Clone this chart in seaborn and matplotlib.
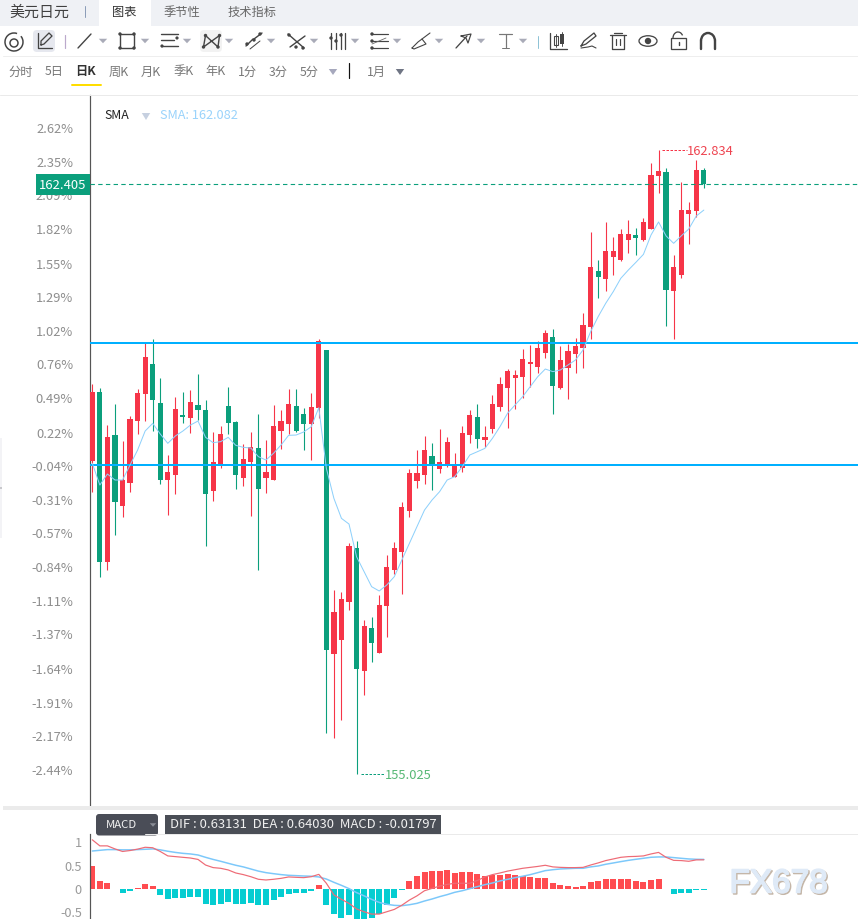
import numpy as np
import pandas as pd
import seaborn as sns
import matplotlib
matplotlib.use("Agg")
import matplotlib.pyplot as plt
import matplotlib.patheffects as pe
from matplotlib.patches import Rectangle, Circle, FancyBboxPatch, Ellipse, Arc
from matplotlib.transforms import ScaledTranslation

# Daily USD/JPY quotes
opens = [158.946,159.805,157.678,159.267,158.379,158.666,159.442,159.780,160.156,159.667,158.704,158.766,159.517,159.480,159.642,
         159.580,158.566,158.904,159.630,159.430,158.729,158.929,159.104,158.729,158.704,159.317,159.405,159.630,159.530,159.405,
         159.605,160.331,156.526,156.702,157.177,157.853,156.314,156.852,156.539,157.127,157.578,157.803,158.316,158.691,158.766,
         159.004,158.842,158.892,158.741,158.854,159.267,159.492,159.204,159.342,159.618,159.856,159.981,159.993,160.156,160.118,
         160.294,160.494,159.856,160.106,160.281,160.356,160.619,161.320,161.220,161.495,161.457,161.708,161.770,161.708,161.845,
         162.508,162.559,161.069,161.270,162.033,162.071,162.584]
highs = [159.905,159.855,159.392,159.655,159.192,159.505,159.843,160.414,160.468,159.980,159.017,159.743,159.805,159.830,160.030,
         159.705,159.305,159.380,159.868,159.442,159.154,159.305,159.530,159.204,159.642,159.580,159.843,159.843,159.605,159.793,
         160.468,160.331,157.327,157.302,157.916,157.941,156.952,156.989,157.265,157.765,157.928,158.429,158.842,159.079,159.255,
         159.167,159.342,159.242,159.042,159.380,159.580,159.655,159.380,159.768,159.993,160.093,160.081,160.344,160.394,160.444,
         160.581,160.594,160.381,160.406,160.481,160.794,161.808,161.457,161.933,161.745,161.845,161.958,161.858,161.983,162.671,
         162.834,162.609,161.520,162.433,162.183,162.709,162.609]
lows = [158.554,157.490,157.578,158.016,158.241,158.554,159.280,159.442,159.317,158.654,158.266,158.529,159.417,159.292,159.455,
        157.878,158.441,158.854,159.275,158.591,158.629,158.253,157.578,158.541,158.704,159.092,159.280,159.305,159.079,158.954,
        159.480,155.538,155.475,155.701,157.077,155.025,156.013,156.426,156.539,156.739,157.528,157.277,158.241,158.604,158.654,
        158.579,158.791,158.867,158.741,158.804,159.167,159.104,159.117,159.292,159.568,159.355,159.593,159.730,159.868,160.043,
        160.231,159.530,159.843,159.718,160.043,160.106,160.469,160.982,161.069,161.270,161.445,161.545,161.520,161.695,161.845,
        162.296,160.631,160.469,161.232,161.658,161.995,162.358]
closes = [159.805,157.678,159.242,158.429,158.704,159.467,159.793,160.243,159.705,158.704,158.804,159.592,159.492,159.680,159.580,
          158.529,158.929,159.280,159.417,158.766,158.967,159.117,158.591,158.804,159.380,159.442,159.655,159.317,159.405,159.617,
          160.443,156.577,157.052,157.215,157.878,156.339,156.877,156.664,157.140,157.615,157.853,158.366,158.791,158.791,159.079,
          158.892,158.929,159.179,158.892,159.292,159.517,159.217,159.242,159.655,159.906,160.068,160.018,160.218,160.181,160.356,
          160.544,159.881,160.206,160.319,160.381,160.644,161.370,161.245,161.570,161.570,161.783,161.783,161.733,161.933,162.521,
          162.571,161.082,161.370,162.083,162.083,162.584,162.405]
sma = [158.912,158.641,158.779,158.704,158.704,158.892,159.079,159.317,159.413,159.280,159.163,159.255,159.317,159.392,159.442,
       159.238,159.171,159.184,159.238,159.138,159.113,159.104,158.996,158.954,159.038,159.142,159.263,159.267,159.305,159.371,
       159.609,158.850,158.474,158.224,158.153,157.744,157.557,157.369,157.315,157.390,157.494,157.703,157.911,158.120,158.328,
       158.454,158.558,158.704,158.746,158.871,159.017,159.058,159.100,159.226,159.372,159.539,159.643,159.747,159.872,159.997,
       160.093,160.060,160.081,160.143,160.206,160.331,160.560,160.748,160.915,161.061,161.228,161.332,161.428,161.528,161.770,
       161.933,161.758,161.666,161.758,161.845,162.008,162.082]

# Drawn support and resistance levels, and the percentage scale
level_prices = [160.418, 158.892]
base_price = 158.936
pct_ticks = [2.62, 2.35, 2.09, 1.82, 1.55, 1.29, 1.02, 0.76, 0.49, 0.22, -0.04, -0.31, -0.57, -0.84, -1.11, -1.37, -1.64, -1.91, -2.17, -2.44]

# MACD pane
dif = [1.06,0.93,0.93,0.865,0.81,0.83,0.86,0.90,0.89,0.81,0.715,0.70,0.685,0.67,0.64,0.52,0.465,0.45,0.415,0.35,0.315,0.27,0.215,0.20,
       0.215,0.235,0.265,0.257,0.25,0.27,0.32,0.13,-0.12,-0.215,-0.30,-0.42,-0.48,-0.53,-0.53,-0.48,-0.43,-0.34,-0.23,-0.14,-0.03,
       0.02,0.07,0.105,0.13,0.13,0.13,0.19,0.265,0.315,0.35,0.39,0.42,0.45,0.47,0.49,0.515,0.48,0.47,0.465,0.465,0.47,0.52,0.565,0.615,
       0.65,0.685,0.70,0.705,0.715,0.757,0.79,0.685,0.62,0.615,0.60,0.63,0.63131]
dea = [0.82,0.835,0.85,0.85,0.845,0.845,0.85,0.857,0.865,0.845,0.815,0.79,0.77,0.757,0.735,0.685,0.64,0.60,0.557,0.515,0.48,0.435,0.39,0.357,
       0.335,0.315,0.30,0.293,0.285,0.28,0.265,0.22,0.15,0.085,0.015,-0.07,-0.14,-0.215,-0.28,-0.32,-0.343,-0.35,-0.33,-0.30,-0.25,
       -0.207,-0.157,-0.114,-0.064,-0.03,0.014,0.057,0.10,0.136,0.18,0.214,0.25,0.28,0.314,0.357,0.40,0.42,0.436,0.443,0.45,0.45,0.48,0.50,0.536,
       0.564,0.593,0.62,0.643,0.664,0.686,0.693,0.693,0.679,0.664,0.65,0.643,0.6403]
macd = [0.50,0.18,0.135,0.005,-0.08,-0.035,0.02,0.115,0.07,-0.115,-0.215,-0.185,-0.185,-0.165,-0.165,-0.315,-0.345,-0.32,-0.265,-0.32,-0.32,-0.29,-0.345,-0.335,
        -0.23,-0.165,-0.10,-0.085,-0.08,-0.035,0.095,-0.34,-0.535,-0.615,-0.55,-0.66,-0.66,-0.62,-0.53,-0.34,-0.19,-0.01,0.18,0.285,0.37,
        0.39,0.39,0.415,0.35,0.37,0.37,0.33,0.285,0.30,0.315,0.335,0.31,0.285,0.265,0.25,0.245,0.135,0.095,0.065,0.05,0.07,0.16,0.18,0.22,
        0.22,0.22,0.22,0.18,0.16,0.20,0.22,0.003,-0.095,-0.08,-0.08,-0.02,-0.01797]
macd_ticks = [1, 0.5, 0, -0.5]
macd_tick_labels = ["1", "0.5", "0", "-0.5"]

# Interface labels
instrument = "美元日元"
tabs = ["图表", "季节性", "技术指标"]
periods = ["分时", "5日", "日K", "周K", "月K", "季K", "年K", "1分", "3分", "5分"]
contract = "1月"

RED, GREEN = "#F63548", "#0B9F7C"
BLUE_LEVEL = "#00B0FF"
SMA_BLUE = "#8DD0FB"
TICK_GREY = "#8E8E8E"
ICON = "#444444"
CJK = ["Noto Sans CJK SC", "DejaVu Sans"]

W, H = 858, 919
sns.set_theme(style="white")
plt.rcParams["font.family"] = CJK
plt.rcParams["axes.unicode_minus"] = False

frame = pd.DataFrame({"idx": np.arange(len(closes)), "open": opens, "high": highs, "low": lows,
                      "close": closes, "sma": sma, "dif": dif, "dea": dea, "macd": macd})
up = frame["close"] >= frame["open"]
candle_colors = np.where(up, RED, GREEN)

fig = plt.figure(figsize=(W / 100, H / 100), dpi=100, facecolor="white")


def pane(top, bottom):
    return fig.add_axes([90 / W, 1 - bottom / H, (W - 90) / W, (bottom - top) / H])


def raise_labels(axis_labels, px):
    # Nudge tick labels up by a few screen pixels
    shift = ScaledTranslation(0, px / 100, fig.dpi_scale_trans)
    for label in axis_labels:
        label.set_transform(label.get_transform() + shift)


PX = 0.72  # one pixel in points
step = 7.55  # pixels per trading day
xlim = (-2.3 / step, (W - 92.3) / step)

# Candlestick pane
ax = pane(95, 805)
ax.set_xlim(*xlim)
ax.set_ylim(154.637, 163.522)
ax.vlines(frame["idx"], frame["low"], frame["high"], colors=candle_colors, lw=PX * 1.1, zorder=2)
ax.bar(frame["idx"], (frame["close"] - frame["open"]).abs(), bottom=frame[["open", "close"]].min(axis=1),
       width=5.2 / step, color=candle_colors, linewidth=0, zorder=3)
for level in level_prices:
    ax.axhline(level, color=BLUE_LEVEL, lw=PX * 2, zorder=4)
sns.lineplot(data=frame, x="idx", y="sma", ax=ax, color=SMA_BLUE, lw=PX * 1.0, estimator=None, sort=False, zorder=5)

ax.set_xlabel("")
ax.set_ylabel("")
ax.set_xticks([])
ax.set_yticks([base_price * (1 + p / 100) for p in pct_ticks])
ax.set_yticklabels([f"{p:.2f}%" for p in pct_ticks])
ax.tick_params(axis="y", length=0, pad=12.2, labelsize=9.3, labelcolor=TICK_GREY)
raise_labels(ax.get_yticklabels(), 1)
for side in ("top", "right", "bottom"):
    ax.spines[side].set_visible(False)
ax.spines["left"].set_color("#555555")
ax.spines["left"].set_linewidth(PX * 1.2)

# Last-price marker on the axis
last_price = closes[-1]
ax.axhline(last_price, color=GREEN, lw=PX * 1.1, dashes=(4, 3), zorder=4)
box_w = 54 / (W - 90)
box_h = 21 * (ax.get_ylim()[1] - ax.get_ylim()[0]) / 710
ax.add_patch(Rectangle((-box_w, last_price - box_h / 2), box_w, box_h, transform=ax.get_yaxis_transform(),
                       facecolor=GREEN, edgecolor="none", clip_on=False, zorder=10))
ax.text(-box_w / 2, last_price, f"{last_price:.3f}", transform=ax.get_yaxis_transform(), color="white",
        fontsize=9.4, ha="center", va="center_baseline", zorder=11)

# Extreme-price callouts
i_hi = int(np.argmax(highs))
i_lo = int(np.argmin(lows))
ax.hlines(highs[i_hi], i_hi + 0.45, i_hi + 3.75, colors=RED, lw=PX, linestyles=(0, (2.5, 1.5)), zorder=4)
ax.text(i_hi + 3.78, highs[i_hi], f"{highs[i_hi]:.3f}", color="#EE4450", fontsize=9.3, va="center_baseline", ha="left")
ax.hlines(lows[i_lo], i_lo + 0.6, i_lo + 3.75, colors=GREEN, lw=PX, linestyles=(0, (2.5, 1.5)), zorder=4)
ax.text(i_lo + 3.78, lows[i_lo], f"{lows[i_lo]:.3f}", color="#57B875", fontsize=9.3, va="center_baseline", ha="left")

# MACD pane
mx = pane(834, H)
mx.set_xlim(*xlim)
mx.set_ylim(-0.635, 1.184)
bar_colors = np.where(frame["macd"] >= 0, "#FF4C50", "#05CDD1")
mx.bar(frame["idx"], frame["macd"], width=6 / step, color=bar_colors, linewidth=0, zorder=2)
sns.lineplot(data=frame, x="idx", y="dea", ax=mx, color="#7CC8FA", lw=PX * 1.5, estimator=None, sort=False, zorder=3)
sns.lineplot(data=frame, x="idx", y="dif", ax=mx, color="#EE6B76", lw=PX * 1.2, estimator=None, sort=False, zorder=4)
mx.set_xlabel("")
mx.set_ylabel("")
mx.set_xticks([])
mx.set_yticks(macd_ticks)
mx.set_yticklabels(macd_tick_labels)
mx.tick_params(axis="y", length=0, pad=5.8, labelsize=9.2, labelcolor="#9A9A9A")
raise_labels(mx.get_yticklabels(), 0.3)
for side in ("top", "right", "bottom"):
    mx.spines[side].set_visible(False)
mx.spines["left"].set_color("#555555")
mx.spines["left"].set_linewidth(PX * 1.2)

# Interface chrome, laid out in screen pixels
ui = fig.add_axes([0, 0, 1, 1], zorder=20)
ui.set_xlim(0, W)
ui.set_ylim(H, 0)
ui.axis("off")
ui.patch.set_alpha(0)


def line(xs, ys, color=ICON, w=1.4, **kw):
    ui.plot(xs, ys, color=color, lw=PX * w, solid_capstyle="round", **kw)


def dot(x, y, r=1.7, color=ICON):
    ui.add_patch(Circle((x, y), r, facecolor=color, edgecolor="none"))


def tri(x, y, color="#A9ABB8", half=4.2, h=4.5):
    ui.fill([x - half, x + half, x], [y - h / 2, y - h / 2, y + h / 2], color=color, lw=0)


def rect(x0, y0, x1, y1, color):
    ui.add_patch(Rectangle((x0, y0), x1 - x0, y1 - y0, facecolor=color, edgecolor="none"))


def rounded(x0, y0, x1, y1, color, r=3):
    ui.add_patch(FancyBboxPatch((x0 + r, y0 + r), x1 - x0 - 2 * r, y1 - y0 - 2 * r,
                                boxstyle=f"round,pad={r}", facecolor=color, edgecolor="none"))


# Tab strip
rect(0, 0, W, 26, "#EFF1F5")
rect(99, 0, 151, 26, "white")
ui.text(9, 12.5, instrument, fontsize=10.8, color="#404040", va="center", ha="left")
line([84.5, 84.5], [6, 17], color="#8C9DB8", w=1)
for t, x, c in zip(tabs, [112, 164, 228], ["#333333", "#666666", "#666666"]):
    ui.text(x, 12.5, t, fontsize=8.8, color=c, va="center", ha="left")

# Separators and the collapsed side panel
line([3, W], [55.5, 55.5], color="#EEEEEE", w=1)
line([0, W], [94.5, 94.5], color="#EAEAEA", w=1)
rect(3, 806, W, 810, "#EBEBEB")
line([145, W], [834.3, 834.3], color="#EAEAEA", w=1)
rect(0, 438, 2, 538, "#F3F3F6")
rect(0, 487, 1.5, 489, "#C8C8CC")

# Drawing toolbar
ui.add_patch(Arc((14, 42), 18, 18, theta1=-40, theta2=290, color=ICON, lw=PX * 1.5))
ui.add_patch(Circle((14, 43), 4, fill=False, edgecolor=ICON, lw=PX * 1.5))
rounded(33, 30, 55, 52, "#E6E8EF", r=4)
line([38, 38, 52], [33, 48, 48], w=1.3)
line([41, 41, 49, 52, 44, 41], [45, 41, 33, 36, 44, 45], w=1.3)
line([64.5, 64.5], [35, 48], color="#BBA9CC", w=1.2)
line([78, 91], [48, 34])
tri(103, 41)
ui.add_patch(Rectangle((120, 34), 14, 14, fill=False, edgecolor=ICON, lw=PX * 1.4))
for cx, cy in [(120, 34), (134, 34), (120, 48), (134, 48)]:
    dot(cx, cy)
tri(145, 41)
for yy, xe in [(34, 178), (40, 174), (46, 178)]:
    line([161, xe], [yy, yy])
dot(177, 38, 1.6)
dot(162, 46, 1.6)
tri(187, 41)
rounded(200, 30, 222, 52, "#F2F2F2", r=4)
line([203.5, 205.5, 218, 219.5, 203.5], [47, 35.5, 47, 35.5, 47])
for cx, cy in [(205.5, 35.5), (219.5, 35.5), (203.5, 47), (218, 47)]:
    dot(cx, cy)
tri(229, 41)
line([246, 253], [46, 39])
line([254, 262], [39, 33])
dot(247, 44)
dot(254, 40)
dot(260, 34)
line([250, 260], [49, 41], w=1)
tri(271, 41)
line([288, 304], [34, 48])
line([290, 305], [47, 36])
dot(289, 35)
dot(296, 47)
dot(303, 48)
tri(314, 41)
for xx in [331, 336, 341, 345]:
    line([xx, xx], [33, 49], w=1.3)
dot(331, 38)
dot(336, 41)
dot(341, 35)
tri(355, 41)
for yy in [34, 41, 48]:
    line([371, 388], [yy, yy], w=1.2)
line([372, 386], [44, 38], color="#666666", w=0.8)
dot(372, 34)
dot(372, 41)
dot(372, 48)
tri(397, 41)
line([412, 418, 422, 426, 414, 412], [48, 42, 39, 44, 49, 48], w=1.1)
line([422, 430], [39, 33], w=1.1)
tri(439, 41)
line([456, 467], [48, 36], w=1.3)
line([461, 471, 468, 466, 461], [36, 34, 43, 38, 36], w=1.2)
tri(481, 41)
line([499, 512], [34, 34], color="#777777", w=1.2)
line([505.5, 505.5], [34, 48], color="#777777", w=1.2)
line([502, 509], [48, 48], color="#777777", w=1)
tri(523, 41)
line([537.5, 537.5], [36, 48], color="#8FC3D6", w=1)
line([550, 550, 567], [33, 49, 49], w=1.3)
ui.add_patch(Rectangle((554, 36), 4, 9, fill=False, edgecolor=ICON, lw=PX * 1.1))
rect(560, 34, 564, 44, ICON)
line([556, 556], [34, 47], w=0.9)
line([562, 562], [32, 46], w=0.9)
line([581, 584, 594, 596, 586, 581], [46, 41, 33, 36, 44, 46], w=1.3)
line([581, 588, 592, 596], [48, 47, 46, 48], w=1.1)
line([610, 626], [35, 35], w=1.3)
line([614, 622], [32.5, 32.5], w=1.3)
line([612, 612, 624, 624], [35, 49, 49, 35], w=1.3)
line([616, 616], [39, 45], w=1.2)
line([620, 620], [39, 45], w=1.2)
ui.add_patch(Ellipse((648, 41), 18, 10.5, fill=False, edgecolor=ICON, lw=PX * 1.3))
dot(648, 41, 3.2)
ui.add_patch(Rectangle((671, 38), 15, 11, fill=False, edgecolor=ICON, lw=PX * 1.3))
ui.add_patch(Arc((678, 38), 10, 12, theta1=180, theta2=330, color=ICON, lw=PX * 1.3))
line([678.5, 678.5], [42, 45], w=1.4)
ui.add_patch(Arc((708, 41), 14, 16, theta1=180, theta2=360, color=ICON, lw=PX * 2.4))
line([701, 701], [41, 49], w=2.4)
line([715, 715], [41, 49], w=2.4)

# Period selector
period_x = [8, 45, 75, 109, 141, 173, 205, 238, 269, 300]
for label, x in zip(periods, period_x):
    active = label == "日K"
    ui.text(x, 72, label, fontsize=8.8, ha="left", va="center",
            color="#333333" if active else "#777777", fontweight="bold" if active else "normal")
line([72, 101], [85, 85], color="#FFDD00", w=2)
tri(333, 72, color="#A6A8BD", h=6)
line([348.5, 348.5], [63, 78], color="#111111", w=1.2)
ui.text(367, 72, contract, fontsize=8.8, ha="left", va="center", color="#777777")
tri(400, 72, color="#6F7584", h=6)

# Indicator legends
ui.text(104, 115.5, "SMA", fontsize=8.9, color="#222222", va="center", ha="left")
tri(146, 116.5, color="#C6D0E0", h=7)
ui.text(160, 115.5, f"SMA: {sma[-1]:.3f}", fontsize=9.2, color="#9AD3FB", va="center", ha="left")

rounded(96, 814, 158, 835.5, "#4A4D57", r=3)
ui.text(106, 825.5, "MACD", fontsize=8.2, color="#F2F2F2", va="center", ha="left")
tri(153, 825, color="#8A8D96", half=3.2, h=3.5)
rect(165, 815, 441, 834, "#4A4E56")
ui.text(170, 824.8, f"DIF : {dif[-1]:.5f}  DEA : {dea[-1]:.5f}  MACD : {macd[-1]:.5f}",
        fontsize=9.4, color="#F0F0F0", va="center", ha="left")

# Site watermark
WM = "#DFEAF7"
ui.text(729.5, 884, "FX678", fontsize=24, family="Liberation Sans", color=WM, va="center", ha="left",
        path_effects=[pe.Stroke(linewidth=1.2, foreground="#C4B6A8", offset=(1.0, -1.0)),
                      pe.Stroke(linewidth=1.2, foreground=WM), pe.Normal()])

fig.savefig("out.png", dpi=100, facecolor="white")
